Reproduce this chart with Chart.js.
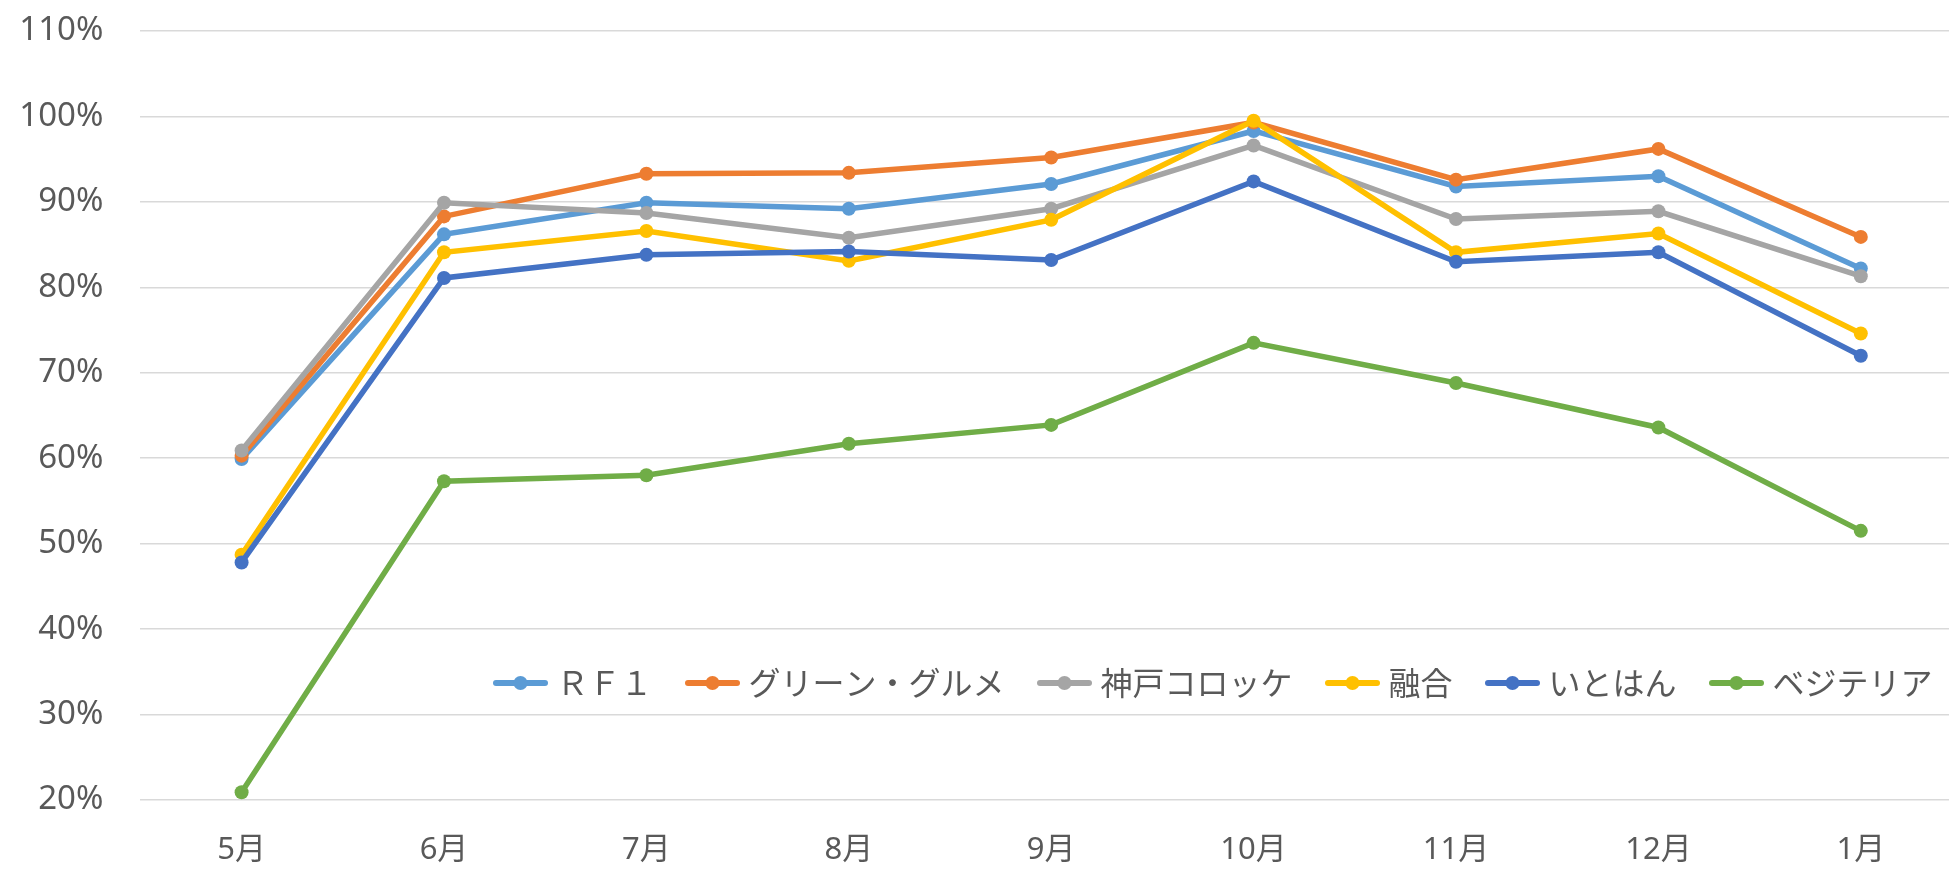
<!DOCTYPE html>
<html><head><meta charset="utf-8">
<script src="https://cdn.jsdelivr.net/npm/chart.js@4/dist/chart.umd.min.js"></script>
<style>
html,body{margin:0;padding:0;background:#fff;overflow:hidden;width:1949px;height:871px}
#wrap{position:absolute;left:0;top:0;width:1975px;height:871px}
</style>
</head><body><div id="wrap"><canvas id="c" width="1975" height="871"></canvas></div>
<script>
// ---- data ----
const categories = ['5月','6月','7月','8月','9月','10月','11月','12月','1月'];
const seriesNames = ['ＲＦ１','グリーン・グルメ','神戸コロッケ','融合','いとはん','ベジテリア'];
const rf1       = [59.9, 86.2, 89.9, 89.2, 92.1, 98.3, 91.8, 93.0, 82.2];
const greenGourmet = [60.3, 88.3, 93.3, 93.4, 95.2, 99.3, 92.6, 96.2, 85.9];
const kobeCroquette = [60.9, 89.9, 88.7, 85.8, 89.2, 96.6, 88.0, 88.9, 81.3];
const yugo      = [48.7, 84.1, 86.6, 83.1, 87.9, 99.5, 84.1, 86.3, 74.6];
const itohan    = [47.8, 81.1, 83.8, 84.2, 83.2, 92.4, 83.0, 84.1, 72.0];
const vegeteria = [20.9, 57.3, 58.0, 61.7, 63.9, 73.5, 68.8, 63.6, 51.5];
const yMin = 20, yMax = 110, yStep = 10;

// ---- styles ----
const seriesValues = [rf1, greenGourmet, kobeCroquette, yugo, itohan, vegeteria];
const colors = ['#5B9BD5','#ED7D31','#A5A5A5','#FFC000','#4472C4','#70AD47'];
const LATIN = "'Noto Sans','Noto Sans CJK JP',sans-serif";
const CJK = "'Noto Sans CJK JP','Noto Sans',sans-serif";
const TEXT = '#595959';
const LEGEND_LEFT = 493;      // left of first legend marker
const LEGEND_CY = 683;        // vertical centre of legend row
const LEG_PAD = 40;

function legendImg(color){
  const c = document.createElement('canvas');
  c.width = 55; c.height = 16;
  const g = c.getContext('2d');
  g.strokeStyle = color; g.lineWidth = 6; g.lineCap = 'round';
  g.beginPath(); g.moveTo(3, 8); g.lineTo(52, 8); g.stroke();
  g.fillStyle = color; g.beginPath(); g.arc(27.5, 8, 7, 0, Math.PI*2); g.fill();
  return c;
}
const legendImgs = colors.map(legendImg);

const legendMover = {
  id: 'legendMover',
  afterLayout(chart){
    const lg = chart.legend;
    if (!lg) return;
    const fs = 32;
    lg.left = LEGEND_LEFT + 7.5 - LEG_PAD;
    lg.right = chart.width;
    lg.top = LEGEND_CY - fs/2 - LEG_PAD;
    lg.bottom = lg.top + fs + 2*LEG_PAD + 10;
    lg.width = lg.right - lg.left;
    lg.height = lg.bottom - lg.top;
  }
};

new Chart(document.getElementById('c'), {
  type: 'line',
  data: {
    labels: categories,
    datasets: seriesValues.map((vals, i) => ({
      label: seriesNames[i],
      data: vals,
      borderColor: colors[i],
      backgroundColor: colors[i],
      pointBackgroundColor: colors[i],
      pointBorderColor: colors[i],
      pointBorderWidth: 0,
      pointRadius: 7,
      pointHoverRadius: 7,
      borderWidth: 5.5,
      tension: 0,
      fill: false,
      order: seriesValues.length - 1 - i
    }))
  },
  options: {
    responsive: false,
    animation: false,
    devicePixelRatio: 1,
    layout: { padding: { top: 31, right: 13, left: 0, bottom: 0 } },
    plugins: {
      tooltip: { enabled: false },
      legend: {
        position: 'bottom',
        align: 'start',
        maxHeight: 1,
        labels: {
          usePointStyle: true,
          pointStyleWidth: 40,
          padding: LEG_PAD,
          color: TEXT,
          font: { family: CJK, size: 32 },
          sort: (a, b) => a.datasetIndex - b.datasetIndex,
          generateLabels(chart){
            const base = Chart.defaults.plugins.legend.labels.generateLabels(chart);
            return base.map(l => Object.assign(l, { pointStyle: legendImgs[l.datasetIndex] }));
          }
        }
      }
    },
    scales: {
      x: {
        offset: true,
        grid: { display: false },
        border: { display: false },
        ticks: { color: TEXT, font: { family: LATIN, size: 31 }, padding: 24, maxRotation: 0 },
        afterFit(s){ s.height = 70; s.paddingLeft = 0; s.paddingRight = 0; }
      },
      y: {
        min: yMin, max: yMax,
        ticks: { stepSize: yStep, color: TEXT, font: { family: LATIN, size: 33 }, padding: 37,
                 callback: v => v + '%' },
        grid: { color: '#d9d9d9', lineWidth: 1.5, drawTicks: false },
        border: { display: false },
        afterFit(s){ s.width = 140.4; s.paddingTop = 0; s.paddingBottom = 0; }
      }
    }
  },
  plugins: [legendMover]
});
</script>
</body></html>
